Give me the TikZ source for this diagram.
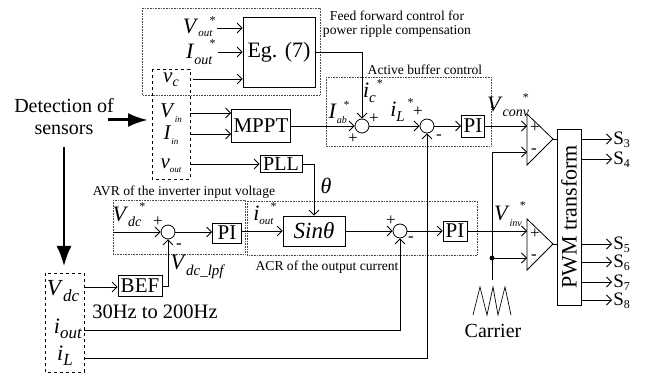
\documentclass[tikz,border=0pt]{standalone}
\usepackage{fontspec}
\setmainfont{Liberation Serif}
\usetikzlibrary{arrows.meta,calc}
\newcommand\fs[1]{\fontsize{#1}{#1}\selectfont}
\newcommand\ssub[3]{\raisebox{-#1pt}{\fs{#2}\textit{#3}}}
\newcommand\sstar[3]{\hspace{#1pt}\raisebox{#2pt}{\fs{#3}*}}
\begin{document}
\begin{tikzpicture}[x=1pt,y=-1pt,
  line width=0.8pt,
  blk/.style={draw, inner sep=0pt, font=\fs{21}},
  sumj/.style={draw, circle, minimum size=14pt, inner sep=0pt},
  arr/.style={-{Straight Barb[length=5pt,width=10pt]}},
  dotbox/.style={draw=black!70, densely dotted, line width=0.6pt},
  dashbox/.style={draw, dashed, line width=0.7pt},
  sml/.style={font=\fs{13.6}, inner sep=0pt},
  sgn/.style={font=\fs{17}, inner sep=0pt},
  lab/.style={inner sep=0pt}]
\useasboundingbox (0,0) rectangle (651,374);

% ---------- feed forward block ----------
\draw[dotbox] (142,8) rectangle (320,95);
\node[sml, align=center] (fftxt) at (397,24) {Feed forward control for\\[1pt]power ripple compensation};
\node[blk, font=\fs{22}, minimum width=72pt, minimum height=70pt] (eg) at (279,52) {Eg. (7)};
\coordinate (voutin) at (217,28);
\coordinate (ioutin) at (218,52);
\coordinate (vcin) at (193,79);
\node[lab, anchor=east] (lvout) at (216,27) {\fs{22}\textit{V}\ssub{3}{11}{out}\sstar{-3}{9}{12}};
\node[lab, anchor=east] (liout) at (216,52) {\fs{22}\textit{I}\ssub{6}{14}{out}\sstar{-3}{11}{12}};
\draw[arr] (voutin) -- (voutin -| eg.west);
\draw[arr] (ioutin) -- (ioutin -| eg.west);
\draw[arr] (vcin) -- (vcin -| eg.west);

% ---------- sensor box ----------
\draw[dashbox] (152,69) rectangle (190,179);
\node[lab] (lvc) at (171,80) {\fs{21}\textit{v}\ssub{4}{14}{c}};
\node[lab] (lvin) at (171,113) {\fs{21}\textit{V}\ssub{5}{9}{in}};
\node[lab] (liin) at (171,135) {\fs{21}\textit{I}\ssub{5}{9}{in}};
\node[lab] (lvo) at (171,166) {\fs{21}\textit{v}\ssub{4}{9}{out}};

% ---------- detection of sensors ----------
\node[lab, font=\fs{20}, align=center] (det) at (64,117) {Detection of\\[2pt]sensors};
\coordinate (bigA) at (108,120);
\coordinate (bigB) at (148,120);
\draw[line width=3pt, -{Latex[length=20pt,width=14pt]}] (bigA) -- (bigB);
\coordinate (dnA) at (64,147);
\coordinate (dnB) at (64,266);
\draw[line width=2pt, -{Latex[length=20pt,width=15pt]}] (dnA) -- (dnB);

% ---------- MPPT ----------
\node[blk, minimum width=59pt, minimum height=33pt] (mppt) at (261,126) {MPPT};
\coordinate (vinc) at (190,113);
\coordinate (iinc) at (190,134);
\draw[arr] (vinc) -- (vinc -| mppt.west);
\draw[arr] (iinc) -- (iinc -| mppt.west);

% ---------- active buffer control ----------
\draw[dotbox] (326,77) rectangle (491,146);
\node[sml] (abtxt) at (425,70) {Active buffer control};
\node[sumj] (j1) at (362,126) {};
\node[sumj] (j2) at (427,126) {};
\node[blk, minimum width=23pt, minimum height=22pt] (pi1) at (473,126) {PI};
\draw[arr] (mppt.east) -- (j1.west);
\draw[arr] (eg.east) -- (eg.east -| j1) -- (j1.north);
\draw[arr] (j1.east) -- (j2.west);
\draw[arr] (j2.east) -- (pi1.west);
\node[lab] (liab) at (339,112) {\fs{22}\textit{I}\ssub{5}{10}{ab}\sstar{-3}{10}{11}};
\node[lab] (lic) at (373,91) {\fs{22}\textit{i}\ssub{5}{15}{c}\sstar{1}{10}{12}};
\node[lab] (lil) at (402,110) {\fs{22}\textit{i}\ssub{5}{15}{L}\sstar{3}{10}{12}};
\node[sgn] (p1a) at (374,119) {+};
\node[sgn] (p1b) at (353,139) {+};
\node[sgn] (p2a) at (418,112) {+};
\node[sgn] (m2a) at (439,137) {-};
\node[lab] (lvconv) at (508,105) {\fs{22}\textit{V}\ssub{5}{14}{conv}\sstar{-6}{10}{12}};

% ---------- comparators ----------
\draw (527,114) -- (553,139) -- (527,165) -- cycle;
\draw (527,219) -- (553,244) -- (527,270) -- cycle;
\coordinate (c1p) at (527,126);
\coordinate (c1m) at (527,152);
\coordinate (c1o) at (553,139);
\coordinate (c2p) at (527,231);
\coordinate (c2m) at (527,258);
\coordinate (c2o) at (553,244);
\node[sgn] (c1ps) at (535,128) {+};
\node[sgn] (c1ms) at (534,151) {-};
\node[sgn] (c2ps) at (535,234) {+};
\node[sgn] (c2ms) at (534,257) {-};
\draw[arr] (pi1.east) -- (c1p);

% ---------- PWM ----------
\node[draw, inner sep=0pt, minimum width=24pt, minimum height=176pt] (pwm) at (569,217) {};
\node[rotate=90, font=\fs{22}, inner sep=0pt] (pwmtxt) at (pwm.center) {PWM transform};
\draw (c1o) -- (c1o -| pwm.west);
\draw (c2o) -- (c2o -| pwm.west);
\foreach \y/\n in {139/3,159/4,244/5,262/6,282/7,300/8}{
  \coordinate (s\n) at (612,\y);
  \draw[arr] (s\n -| pwm.east) -- (s\n);
  \node[lab, anchor=west, font=\fs{19}] (ls\n) at (613,\y+1) {S\raisebox{-3pt}{\fs{12}\n}};
}

% ---------- carrier ----------
\coordinate (ctop) at (492,152);
\coordinate (cdot) at (492,258);
\coordinate (cbot) at (492,280);
\draw (ctop) -- (cbot);
\draw[arr] (ctop) -- (c1m);
\draw[arr] (cdot) -- (c2m);
\fill (cdot) circle (2.4pt);
\draw[line width=0.7pt] (473,315) -- (480,287) -- (487,315) -- (493,287) -- (498,315) -- (505,287) -- (511,315);
\node[lab, font=\fs{20}] (carr) at (493,331) {Carrier};

% ---------- PLL ----------
\node[blk, font=\fs{20}, minimum width=42pt, minimum height=17pt] (pll) at (281,164) {PLL};
\coordinate (voutc) at (190,164);
\draw[arr] (voutc) -- (pll.west);
\node[lab] (lth) at (326,186) {\fs{22}\textit{θ}};

% ---------- AVR ----------
\draw[dotbox] (113,200) rectangle (245,254);
\node[sml] (avrtxt) at (184,192) {AVR of the inverter input voltage};
\node[sumj] (j4) at (168,232) {};
\node[blk, minimum width=29pt, minimum height=20pt] (pi2) at (227,233) {PI};
\coordinate (vdcin) at (113,232);
\draw[arr] (vdcin) -- (j4.west);
\draw[arr] (j4.east) -- (j4.east -| pi2.west);
\node[lab] (lvdcs) at (129,215) {\fs{22}\textit{V}\ssub{5}{14}{dc}\sstar{-2}{11}{12}};
\node[sgn] (p4) at (158,222) {+};
\node[sgn] (m4) at (179,246) {-};

% ---------- ACR ----------
\draw[dotbox] (247,201) rectangle (477,255);
\node[sml] (acrtxt) at (327,267) {ACR of the output current};
\node[blk, font=\fs{23}, minimum width=62pt, minimum height=30pt] (sin) at (314,231) {\textit{Sinθ}};
\draw[arr] (pll.east) -- (pll.east -| sin) -- (sin.north);
\draw[arr] (pi2.east |- sin.west) -- (sin.west);
\node[lab] (liouts) at (265,214) {\fs{22}\textit{i}\ssub{4}{11}{out}\sstar{-3}{10}{12}};
\node[sumj] (j5) at (400,231) {};
\node[blk, minimum width=24pt, minimum height=20pt] (pi3) at (455,231) {PI};
\draw[arr] (sin.east) -- (j5.west);
\draw[arr] (j5.east) -- (pi3.west);
\draw[arr] (pi3.east) -- (c2p);
\node[sgn] (p5) at (391,221) {+};
\node[sgn] (m5) at (411,239) {-};
\node[lab] (lvinv) at (510,214) {\fs{22}\textit{V}\ssub{6}{10}{inv}\sstar{-2}{11}{12}};

% ---------- bottom sensors ----------
\draw[dashbox] (45,273) rectangle (84,372);
\node[lab] (lvdc) at (63,291) {\fs{23}\textit{V}\ssub{6}{17}{dc}};
\node[lab] (liout) at (68,329) {\fs{22}\textit{i}\ssub{5}{17}{out}};
\node[lab] (lil2) at (65,356) {\fs{22}\textit{i}\ssub{5}{17}{L}};
\node[blk, minimum width=44pt, minimum height=21pt] (bef) at (140,286) {BEF};
\coordinate (vdcout) at (84,287);
\draw[arr] (vdcout) -- (vdcout -| bef.west);
\draw[arr] (bef.east) -- (bef.east -| j4) -- (j4.south);
\node[lab] (lvlpf) at (198,267) {\fs{22}\textit{V}\ssub{6}{15}{dc\_lpf}};
\node[lab, font=\fs{20.5}] (hz) at (155,312) {30Hz to 200Hz};
\coordinate (ioutc) at (84,330);
\coordinate (ilc) at (84,358);
\draw[arr] (ioutc) -- (ioutc -| j5) -- (j5.south);
\draw[arr] (ilc) -- (ilc -| j2) -- (j2.south);
\end{tikzpicture}
\end{document}
